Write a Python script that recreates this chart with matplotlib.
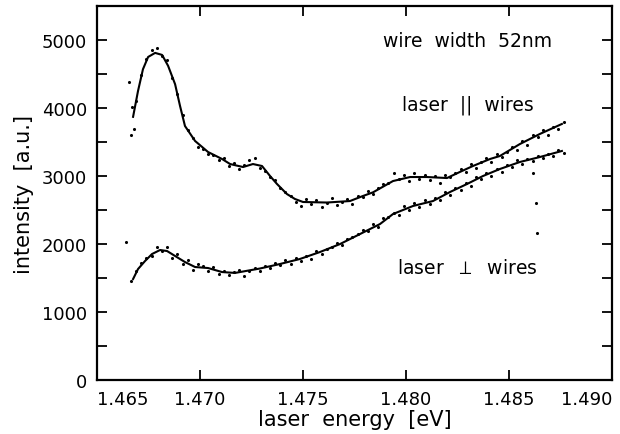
import numpy as np
import matplotlib.pyplot as plt

plt.rcParams['font.family'] = ['DejaVu Sans']

# measured points (energy grid, eV)
energy = np.round(np.linspace(1.46665, 1.48765, 85), 5)

par_counts = [3600, 4100, 4480, 4720, 4850, 4880, 4760, 4700, 4440, 4200,
              3900, 3680, 3560, 3420, 3400, 3320, 3310, 3230, 3260, 3150,
              3190, 3100, 3160, 3230, 3260, 3120, 3080, 2990, 2940, 2820,
              2760, 2700, 2620, 2560, 2660, 2590, 2640, 2540, 2610, 2680,
              2580, 2620, 2660, 2590, 2700, 2690, 2780, 2740, 2820, 2880,
              2900, 3050, 2950, 3010, 2920, 3040, 2960, 3020, 2940, 3000,
              2900, 3010, 2980, 3050, 3110, 3060, 3180, 3120, 3210, 3270,
              3200, 3320, 3280, 3360, 3420, 3380, 3520, 3460, 3600, 3570,
              3680, 3610, 3720, 3690, 3790]

perp_counts = [1460, 1600, 1720, 1790, 1830, 1950, 1900, 1960, 1800, 1850,
               1710, 1760, 1620, 1700, 1680, 1610, 1660, 1560, 1600, 1550,
               1590, 1620, 1530, 1610, 1650, 1600, 1680, 1650, 1720, 1690,
               1760, 1700, 1790, 1750, 1820, 1780, 1900, 1860, 1930, 1950,
               2020, 1990, 2080, 2110, 2150, 2200, 2190, 2290, 2250, 2380,
               2400, 2460, 2420, 2560, 2500, 2600, 2540, 2650, 2590, 2680,
               2640, 2760, 2720, 2830, 2800, 2900, 2860, 2980, 2950, 3040,
               3000, 3100, 3060, 3160, 3130, 3230, 3180, 3250, 3220, 3300,
               3260, 3320, 3290, 3380, 3340]

# stray points
extra_e = [1.46640, 1.46655, 1.46670, 1.46680, 1.48617, 1.48631, 1.48637]
extra_c = [2030, 4380, 4015, 3690, 3044, 2603, 2160]

# smoothed curves
par_fit_e = [1.46675, 1.46699, 1.46723, 1.46748, 1.46782, 1.46816, 1.46845,
             1.46879, 1.46903, 1.46927, 1.46976, 1.47039, 1.47107, 1.47146,
             1.47209, 1.47257, 1.47301, 1.47340, 1.47374, 1.47422, 1.47461,
             1.47500, 1.47616, 1.47728, 1.47791, 1.47840, 1.47937, 1.48020,
             1.48102, 1.48199, 1.48262, 1.48325, 1.48408, 1.48456, 1.48553,
             1.48650, 1.48757]
par_fit_c = [3870, 4250, 4570, 4750, 4810, 4780, 4620, 4350, 4030, 3735,
             3515, 3353, 3250, 3176, 3132, 3176, 3147, 3000, 2882, 2735,
             2662, 2618, 2610, 2632, 2706, 2760, 2926, 2985, 2985, 2970,
             3060, 3147, 3250, 3294, 3470, 3618, 3765]

perp_fit_e = [1.46675, 1.46699, 1.46733, 1.46767, 1.46806, 1.46840, 1.46879,
              1.46927, 1.46976, 1.47039, 1.47107, 1.47170, 1.47291, 1.47388,
              1.47485, 1.47582, 1.47680, 1.47777, 1.47874, 1.47937, 1.48034,
              1.48131, 1.48214, 1.48296, 1.48374, 1.48456, 1.48553, 1.48650,
              1.48757]
perp_fit_c = [1485, 1632, 1750, 1853, 1912, 1897, 1824, 1735, 1662, 1647,
              1588, 1575, 1640, 1706, 1780, 1882, 2000, 2147, 2294, 2441,
              2559, 2632, 2765, 2882, 3000, 3103, 3206, 3279, 3368]

x_ticks = [1.465, 1.470, 1.475, 1.480, 1.485, 1.490]
x_labels = ['1.465', '1.470', '1.475', '1.480', '1.485', '1.490']

fig = plt.figure(figsize=(6.2, 4.35), dpi=100)
ax = fig.add_axes([0.1565, 0.124, 0.8305, 0.86])

ax.scatter(energy, par_counts, s=5, color='black', linewidths=0)
ax.scatter(energy, perp_counts, s=5, color='black', linewidths=0)
ax.scatter(extra_e, extra_c, s=5, color='black', linewidths=0)
ax.plot(par_fit_e, par_fit_c, color='black', lw=1.5)
ax.plot(perp_fit_e, perp_fit_c, color='black', lw=1.5)

ax.set_xlim(1.465, 1.490)
ax.set_ylim(0, 5500)
ax.set_xticks(x_ticks)
ax.set_xticklabels(x_labels)
ax.set_yticks([0, 1000, 2000, 3000, 4000, 5000])
ax.set_yticks(np.arange(500, 5500, 1000), minor=True)

ax.tick_params(which='both', direction='in', top=True, right=True,
               length=7, width=1.3, labelsize=13, pad=7)
# end labels kept inside the frame, as in the original
xl = ax.get_xticklabels()
xl[0].set_ha('left')
xl[-1].set_ha('right')
for sp in ax.spines.values():
    sp.set_linewidth(1.6)

ax.set_xlabel('laser  energy  [eV]', fontsize=15, labelpad=1)
ax.set_ylabel('intensity  [a.u.]', fontsize=15, labelpad=6)

ax.text(1.4830, 4985, 'wire  width  52nm', fontsize=13.5, ha='center', va='center')
ax.text(1.4830, 4060, 'laser  ||  wires', fontsize=13.5, ha='center', va='center')
ax.text(1.4830, 1660, r'laser  $\perp$  wires', fontsize=13.5, ha='center', va='center')

fig.savefig('out.png', dpi=100)
